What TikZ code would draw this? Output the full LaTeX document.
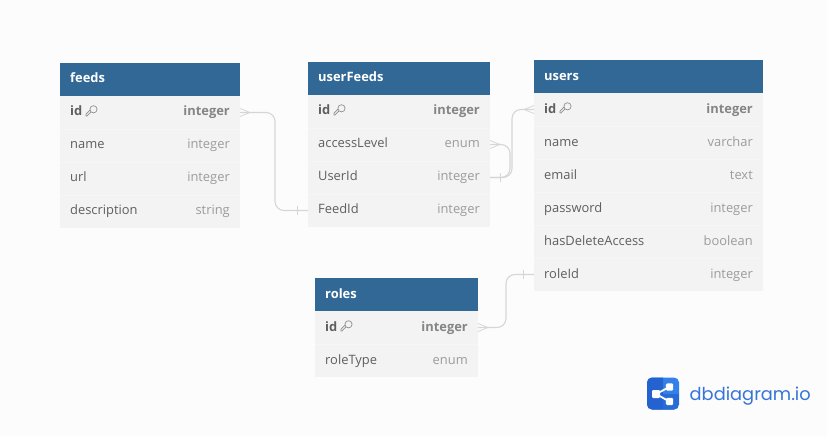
\documentclass[tikz,border=0pt]{standalone}
\usepackage{fontspec}
\setmainfont{Open Sans}
\newfontfamily\logofont{Poppins}
\usetikzlibrary{calc,positioning}
\definecolor{pagebg}{HTML}{FCFCFD}
\definecolor{hdr}{HTML}{316896}
\definecolor{rowbg}{HTML}{F3F3F3}
\definecolor{rowline}{HTML}{F6F6F6}
\definecolor{nametxt}{HTML}{5F5F5F}
\definecolor{typetxt}{HTML}{9C9C9C}
\definecolor{conn}{HTML}{D6D6D6}
\definecolor{logoa}{HTML}{2462CF}
\definecolor{logob}{HTML}{3380E8}
\definecolor{logotxt}{HTML}{3574D8}
\newcommand{\txtdy}{3}
\tikzset{
  x=1pt,y=-1pt,
  hdrbox/.style={fill=hdr,draw=none,anchor=north west,inner sep=0pt,outer sep=0pt,minimum height=33pt},
  rowbox/.style={fill=rowbg,draw=none,anchor=north west,inner sep=0pt,outer sep=0pt,minimum height=33pt},
  hdrtxt/.style={anchor=base west,inner sep=0pt,text=white,font=\fontsize{12.9}{15}\selectfont\bfseries},
  nametxtn/.style={anchor=base west,inner sep=0pt,text=nametxt,font=\fontsize{12.9}{15}\selectfont},
  typetxtn/.style={anchor=base east,inner sep=0pt,text=typetxt,font=\fontsize{12.9}{15}\selectfont},
  keyname/.style={nametxtn,font=\fontsize{12.9}{15}\selectfont\bfseries},
  keytype/.style={typetxtn,font=\fontsize{12.9}{15}\selectfont\bfseries,text=typetxt!85!black},
  link/.style={draw=conn,line width=1.1pt,rounded corners=9pt},
  endmark/.style={draw=conn,line width=0.8pt},
  pics/keyicon/.style={code={
    \draw[nametxt!70,line width=0.7pt] (2,-2) circle[radius=3.6pt];
    \draw[nametxt!70,line width=0.7pt] (-0.6,0.6) -- (-4.4,4.6) -- (-5.6,4.6) -- (-5.6,2.8) -- (-1.6,-1);
  }}
}
% \dbhead{id}{x}{y}{w}{title}
\newcommand{\dbhead}[5]{%
  \node[hdrbox,minimum width=#4pt] (#1) at (#2,#3) {};
  \node[hdrtxt] (#1-title) at ($(#1.west)+(10,\txtdy)$) {#5};
}
% \dbrow{id}{above node}{w}{name}{type}
\newcommand{\dbrow}[5]{%
  \node[rowbox,minimum width=#3pt] (#1) at (#2.south west) {};
  \node[nametxtn] (#1-name) at ($(#1.west)+(10,\txtdy)$) {#4};
  \node[typetxtn] (#1-type) at ($(#1.east)+(-10,\txtdy)$) {#5};
}
% \dbkey{id}{above node}{w}{type}
\newcommand{\dbkey}[4]{%
  \node[rowbox,minimum width=#3pt] (#1) at (#2.south west) {};
  \node[keyname] (#1-name) at ($(#1.west)+(10,\txtdy)$) {id};
  \path ($(#1.west)+(31.5,-1.2)$) pic {keyicon};
  \node[keytype] (#1-type) at ($(#1.east)+(-10,\txtdy)$) {#4};
}
\begin{document}
\begin{tikzpicture}
\useasboundingbox (0,0) rectangle (827,436);
\fill[pagebg] (0,0) rectangle (827,436);

% feeds
\dbhead{feeds}{60}{63}{180}{feeds}
\dbkey{feedsId}{feeds}{180}{integer}
\dbrow{feedsName}{feedsId}{180}{name}{integer}
\dbrow{feedsUrl}{feedsName}{180}{url}{integer}
\dbrow{feedsDesc}{feedsUrl}{180}{description}{string}

% userFeeds
\dbhead{userFeeds}{308}{62}{182}{userFeeds}
\dbkey{ufId}{userFeeds}{182}{integer}
\dbrow{ufAccess}{ufId}{182}{accessLevel}{enum}
\dbrow{ufUser}{ufAccess}{182}{UserId}{integer}
\dbrow{ufFeed}{ufUser}{182}{FeedId}{integer}

\renewcommand{\txtdy}{4}
% users
\dbhead{users}{534}{60}{229}{users}
\dbkey{usersId}{users}{229}{integer}
\dbrow{usersName}{usersId}{229}{name}{varchar}
\dbrow{usersEmail}{usersName}{229}{email}{text}
\dbrow{usersPass}{usersEmail}{229}{password}{integer}
\dbrow{usersDel}{usersPass}{229}{hasDeleteAccess}{boolean}
\dbrow{usersRole}{usersDel}{229}{roleId}{integer}

% roles
\dbhead{roles}{315}{278}{163}{roles}
\dbkey{rolesId}{roles}{163}{integer}
\dbrow{rolesType}{rolesId}{163}{roleType}{enum}

% row separators
\foreach \a/\w in {feedsId/180,feedsName/180,feedsUrl/180,ufId/182,ufAccess/182,ufUser/182,usersId/229,usersName/229,usersEmail/229,usersPass/229,usersDel/229,rolesId/163}
  \draw[rowline,line width=0.6pt] (\a.south west) -- (\a.south east);

% connectors
\draw[link] (feedsId.east) -- ++(35,0) |- (ufFeed.west);
\draw[link] (ufAccess.east) -- ++(20,0) |- (ufUser.east);
\draw[link] (ufUser.east) -- ++(22,0) |- (usersId.west);
\draw[link] (rolesId.east) -- ++(28,0) |- (usersRole.west);

% crow's feet (many) and bars (one)
\draw[endmark] ($(feedsId.east)+(0,-4)$) -- ++(10,4) -- ++(-10,4);
\draw[endmark] ($(ufFeed.west)+(-11,-4.5)$) -- ++(0,9);
\draw[endmark] ($(ufAccess.east)+(0,-4)$) -- ++(10,4) -- ++(-10,4);
\draw[endmark] ($(ufUser.east)+(10,-4.5)$) -- ++(0,9);
\draw[endmark] ($(usersId.west)+(0,-4)$) -- ++(-10,4) -- ++(10,4);
\draw[endmark] ($(rolesId.east)+(0,-4)$) -- ++(10,4) -- ++(-10,4);
\draw[endmark] ($(usersRole.west)+(-11,-4.5)$) -- ++(0,9);

% logo
\node[fill=logob,rounded corners=5pt,minimum size=32pt,inner sep=0pt,outer sep=0pt] (logo) at (663,393.5) {};
\begin{scope}
  \clip[rounded corners=5pt] (logo.south west) rectangle (logo.north east);
  \fill[logoa] (logo.north west) -- (logo.north) -- (logo.center) -- (logo.south) -- (logo.south west) -- cycle;
  \fill[logoa!70!logob] (logo.center) -- (logo.east) -- (logo.south east) -- (logo.south) -- cycle;
\end{scope}
\coordinate (lc) at ($(logo.center)+(-7,0.5)$);
\coordinate (lt) at ($(logo.center)+(6.5,-6.5)$);
\coordinate (lb) at ($(logo.center)+(6.5,8)$);
\draw[white,line width=1.8pt] (lc) -- (lt) (lc) -- (lb);
\fill[white,rounded corners=1.2pt] ($(lc)+(-4,-4)$) rectangle ($(lc)+(4,4)$);
\fill[white,rounded corners=1.2pt] ($(lt)+(-3.6,-3.6)$) rectangle ($(lt)+(3.6,3.6)$);
\fill[white,rounded corners=1.2pt] ($(lb)+(-3.6,-3.6)$) rectangle ($(lb)+(3.6,3.6)$);
\node[anchor=base west,inner sep=0pt,text=logotxt,font=\logofont\fontsize{17.8}{22}\selectfont] (logotext) at (689.5,400.5) {dbdiagram.io};
\end{tikzpicture}
\end{document}
